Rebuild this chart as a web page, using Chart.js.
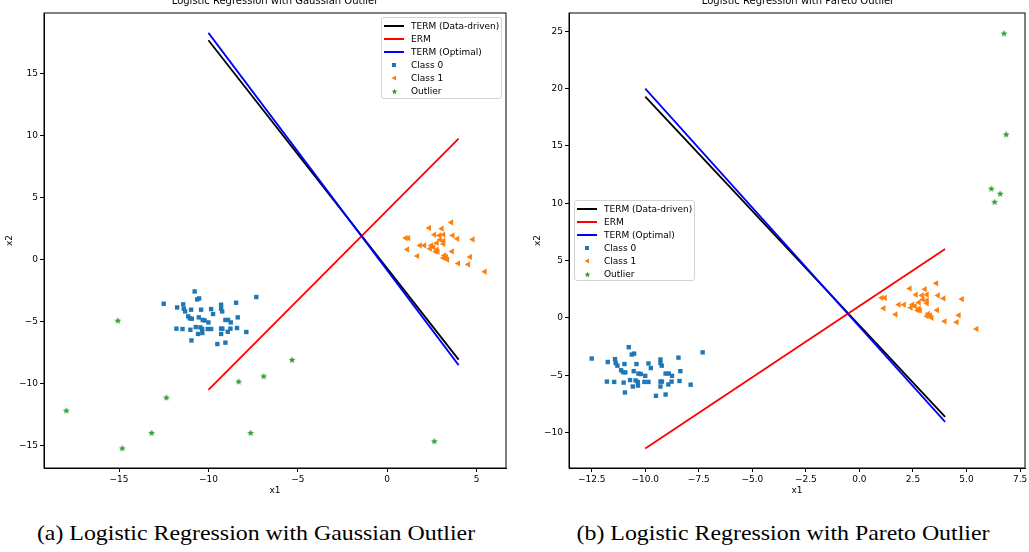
<!DOCTYPE html>
<html><head><meta charset="utf-8">
<script src="https://cdn.jsdelivr.net/npm/chart.js@4.4.0/dist/chart.umd.min.js"></script>
<style>
body{margin:0;background:#fff;}
#wrap{position:relative;width:1029px;height:552px;overflow:hidden;font-family:"DejaVu Sans",sans-serif;}
canvas{position:absolute;top:0;}
.title{position:absolute;font-size:10px;top:-5px;transform:translateX(-50%);white-space:nowrap;color:#000}
.cap{position:absolute;font-family:"Liberation Serif",serif;font-size:22px;top:520px;transform:translateX(-50%) scaleX(1.085);white-space:nowrap;color:#000}
.legend{position:absolute;border:1px solid #d3d3d3;border-radius:3px;background:rgba(255,255,255,.8);box-sizing:border-box;padding-top:1px}
.row{height:13.1px;display:flex;align-items:center;font-size:9px;color:#000;white-space:nowrap}
.h{width:20px;margin-left:2px;margin-right:7px;display:flex;justify-content:center;align-items:center}
.ln{width:20px;height:0;border-top:2px solid}
</style></head>
<body>
<div id="wrap">
  <canvas id="left" width="515" height="500" style="left:0"></canvas>
  <canvas id="right" width="502" height="500" style="left:528px"></canvas>
  <div class="title" style="left:275px">Logistic Regression with Gaussian Outlier</div>
  <div class="title" style="left:798px">Logistic Regression with Pareto Outlier</div>
  <div class="legend" id="legL" style="left:381px;top:17px;width:121px;height:82px"></div>
  <div class="legend" id="legR" style="left:574px;top:200px;width:121px;height:81px"></div>
  <div class="cap" style="left:256px">(a) Logistic Regression with Gaussian Outlier</div>
  <div class="cap" style="left:783px">(b) Logistic Regression with Pareto Outlier</div>
</div>
<script>
// data
const class0X = [-12.50,-11.75,-11.41,-11.38,-11.30,-10.77,-10.63,-10.52,-10.97,-11.13,-11.04,-10.93,-10.41,-10.54,-10.32,-10.21,-10.00,-9.85,-9.74,-9.29,-9.29,-9.23,-8.45,-9.05,-8.90,-8.75,-8.36,-7.32,-11.79,-11.45,-11.01,-10.71,-10.45,-10.35,-10.04,-9.85,-9.29,-9.22,-8.77,-8.40,-8.92,-10.58,-10.34,-9.29,-7.88,-10.95,-9.50,-9.05];
const class0Y = [-3.55,-3.85,-3.60,-3.95,-4.17,-2.56,-3.20,-3.12,-4.03,-4.57,-4.73,-4.76,-4.03,-4.65,-4.86,-4.90,-5.06,-3.98,-4.38,-3.63,-3.95,-4.17,-3.47,-4.86,-4.86,-5.06,-4.65,-3.01,-5.56,-5.59,-5.65,-5.43,-5.46,-5.59,-5.59,-5.59,-5.56,-5.56,-5.56,-5.51,-5.81,-5.99,-5.91,-5.99,-5.83,-6.51,-6.80,-6.69];
const class1X = [3.59,2.35,3.06,2.64,2.92,3.15,3.67,3.93,4.79,1.04,1.19,2.96,3.15,2.78,3.15,1.84,2.08,2.47,2.59,2.40,1.13,2.78,2.72,2.83,3.63,1.69,3.20,3.30,3.15,3.37,4.64,3.98,4.54,5.47];
const class1Y = [3.01,2.56,2.50,2.02,1.96,2.02,1.96,1.69,1.64,1.75,1.75,1.61,1.53,1.35,1.27,1.15,1.15,1.15,1.02,0.89,0.83,0.81,0.65,0.65,0.67,0.30,0.35,0.22,0.14,0.00,0.22,-0.30,-0.38,-0.97];
const gaussOutX = [-15.07,-17.95,-14.82,-13.18,-12.35,-8.31,-6.91,-5.32,-7.64,2.64];
const gaussOutY = [-4.92,-12.18,-15.22,-13.98,-11.13,-9.84,-9.41,-8.09,-13.98,-14.65];
const paretoOutX = [6.75,6.85,6.16,6.57,6.31];
const paretoOutY = [24.81,15.99,11.26,10.82,10.10];

// decision boundaries: [x start, x end], [y start, y end]
const lineX = [-10, 4];
const gaussTermDataY = [17.7, -8.06];
const gaussErmY = [-10.5, 9.76];
const gaussTermOptY = [18.3, -8.5];
const paretoTermDataY = [19.3, -8.64];
const paretoErmY = [-11.4, 6.0];
const paretoTermOptY = [20.0, -9.07];

const gaussXTicks = [-15, -10, -5, 0, 5];
const gaussYTicks = [-15, -10, -5, 0, 5, 10, 15];
const paretoXTicks = [-12.5, -10, -7.5, -5, -2.5, 0, 2.5, 5, 7.5];
const paretoYTicks = [-10, -5, 0, 5, 10, 15, 20, 25];

const legendNames = ['TERM (Data-driven)', 'ERM', 'TERM (Optimal)', 'Class 0', 'Class 1', 'Outlier'];

const C0 = '#1f77b4', C1 = '#ff7f0e', C2 = '#2ca02c';
const FONT = '"DejaVu Sans", sans-serif';

function starImg(r, color){
  const s = Math.ceil(r*2+2), c = document.createElement('canvas'); c.width = c.height = s;
  const g = c.getContext('2d'); g.beginPath();
  for(let i=0;i<10;i++){ const rad = i%2 ? r*0.45 : r; const a = -Math.PI/2 + i*Math.PI/5; g.lineTo(s/2+rad*Math.cos(a), s/2+rad*Math.sin(a)); }
  g.closePath(); g.fillStyle = color; g.fill(); return c;
}
const star = starImg(3.6, C2);

const pts = (xs, ys) => xs.map((x,i)=>({x, y: ys[i]}));
const fmt = (d) => (v) => { const s = d ? Number(v).toFixed(d) : String(Math.round(v)); return s.replace('-', '\u2212'); };

const frame = { id:'frame', afterDraw(c){ const a=c.chartArea, ctx=c.ctx; ctx.save(); ctx.strokeStyle='#000'; ctx.lineWidth=1; ctx.strokeRect(a.left, a.top, a.right-a.left, a.bottom-a.top); ctx.restore(); } };

function axis(min, max, ticks, dec, title, fit){
  return {
    type:'linear', min, max,
    afterBuildTicks: s => { s.ticks = ticks.map(v=>({value:v})); },
    afterFit: fit,
    ticks:{ font:{size:9, family:FONT}, color:'#000', padding:2, callback: fmt(dec) },
    grid:{ drawOnChartArea:false, drawTicks:true, tickLength:4, color:'#000' },
    border:{ display:true, color:'#000', width:1 },
    title:{ display:true, text:title, color:'#000', font:{size:9, family:FONT}, padding:{top:4, bottom:4} }
  };
}

function makeChart(id, o){
  const lineDs = (ys, color, order) => ({ data: pts(lineX, ys), showLine:true, borderColor:color, borderWidth:1.8, pointRadius:0, order });
  return new Chart(document.getElementById(id), {
    type:'scatter',
    data:{ datasets:[
      lineDs(o.termData, '#000000', 3),
      lineDs(o.erm, '#ff0000', 2),
      lineDs(o.termOpt, '#0000ff', 1),
      { data: pts(class0X, class0Y), pointStyle:'rect', pointRadius:3.1, backgroundColor:C0, borderWidth:0, order:0 },
      { data: pts(class1X, class1Y), pointStyle:'triangle', pointRotation:-90, pointRadius:3.6, backgroundColor:C1, borderWidth:0, order:0 },
      { data: pts(o.outX, o.outY), pointStyle:star, order:0 }
    ]},
    options:{
      responsive:false, animation:false, events:[],
      layout:{ padding:{ top:13, right:o.padR, left:0, bottom:0 } },
      plugins:{ legend:{display:false}, tooltip:{enabled:false} },
      scales:{
        x: axis(o.xr[0], o.xr[1], o.xt, o.xdec, 'x1', s=>{ s.height = 32; }),
        y: axis(o.yr[0], o.yr[1], o.yt, 0, 'x2', s=>{ s.width = o.yw; })
      }
    },
    plugins:[frame]
  });
}

makeChart('left', { termData:gaussTermDataY, erm:gaussErmY, termOpt:gaussTermOptY, outX:gaussOutX, outY:gaussOutY,
  xr:[-19.2, 6.65], yr:[-16.8, 19.9], xt:gaussXTicks, yt:gaussYTicks, xdec:0, padR:9, yw:44 });
makeChart('right', { termData:paretoTermDataY, erm:paretoErmY, termOpt:paretoTermOptY, outX:paretoOutX, outY:paretoOutY,
  xr:[-13.56, 7.73], yr:[-13.1, 26.6], xt:paretoXTicks, yt:paretoYTicks, xdec:1, padR:2, yw:41 });

// legends
function starPoly(cx, cy, r){ const p=[]; for(let i=0;i<10;i++){ const rad=i%2?r*0.45:r, a=-Math.PI/2+i*Math.PI/5; p.push((cx+rad*Math.cos(a)).toFixed(2)+','+(cy+rad*Math.sin(a)).toFixed(2)); } return p.join(' '); }
const handles = [
  '<div class="ln" style="border-color:#000"></div>',
  '<div class="ln" style="border-color:#f00"></div>',
  '<div class="ln" style="border-color:#00f"></div>',
  `<svg width="6" height="6"><rect x="1" y="1" width="4" height="4" fill="${C0}"/></svg>`,
  `<svg width="6" height="6"><polygon points="0.5,3 5,0.5 5,5.5" fill="${C1}"/></svg>`,
  `<svg width="7" height="7"><polygon points="${starPoly(3.5,3.7,3)}" fill="${C2}"/></svg>`
];
['legL','legR'].forEach(id=>{
  document.getElementById(id).innerHTML = legendNames.map((n,i)=>`<div class="row"><div class="h">${handles[i]}</div><span>${n}</span></div>`).join('');
});
</script>
</body></html>
